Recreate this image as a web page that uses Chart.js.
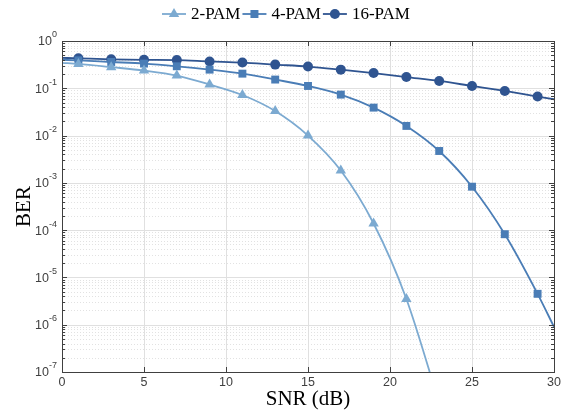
<!DOCTYPE html>
<html>
<head>
<meta charset="utf-8">
<script src="https://cdn.jsdelivr.net/npm/chart.js@4"></script>
<style>
  html, body { margin: 0; padding: 0; background: #fff; }
  #wrap { width: 567px; height: 412px; }
</style>
</head>
<body>
<div id="wrap"><canvas id="myChart"></canvas></div>
<script>
// SNR points (markers on odd values, line runs from 0 to the right edge)
const snr = [0, 1, 3, 5, 7, 9, 11, 13, 15, 17, 19, 21, 23, 25, 27, 29, 30];
const ber2 = [0.345, 0.327, 0.28, 0.237, 0.186, 0.12, 0.072, 0.033, 0.0100, 0.00182, 0.000138, 0.0000035, 0.000000022, null, null, null, null];
const ber4 = [0.40, 0.39, 0.36, 0.333, 0.292, 0.248, 0.204, 0.153, 0.112, 0.0735, 0.039, 0.016, 0.00472, 0.00083, 0.000082, 0.0000045, 0.0000009];
const ber16 = [0.44, 0.43, 0.41, 0.40, 0.395, 0.37, 0.35, 0.317, 0.288, 0.248, 0.21, 0.173, 0.143, 0.112, 0.0877, 0.0668, 0.0586];
const seriesNames = ['2-PAM', '4-PAM', '16-PAM'];
const xTicks = [0, 5, 10, 15, 20, 25, 30];
const yExps = [0, -1, -2, -3, -4, -5, -6, -7];

const colors = ['#7caad1', '#4a7db6', '#2f5490'];
const styles = ['triangle', 'rect', 'circle'];
const radii = [6, 5.6, 5];

function pts(arr) {
  return arr.map(function (v, i) { return { x: snr[i], y: v }; });
}
function markerRadius(r) {
  return snr.map(function (s) { return (s % 2 === 1) ? r : 0; });
}

const sans = '"Liberation Sans", Arial, sans-serif';
const serif = '"Liberation Serif", "Times New Roman", serif';

const decor = {
  id: 'decor',
  beforeDatasetsDraw(chart) {
    const ctx = chart.ctx, a = chart.chartArea;
    const xs = chart.scales.x, ys = chart.scales.y;
    ctx.save();
    // minor dotted grid
    ctx.strokeStyle = '#e2e2e2';
    ctx.lineWidth = 1;
    ctx.setLineDash([1, 2]);
    for (let e = -7; e < 0; e++) {
      for (let m = 2; m <= 9; m++) {
        const y = Math.round(ys.getPixelForValue(m * Math.pow(10, e))) + 0.5;
        ctx.beginPath(); ctx.moveTo(a.left, y); ctx.lineTo(a.right, y); ctx.stroke();
      }
    }
    ctx.setLineDash([]);
    // major grid
    ctx.strokeStyle = '#e0e0e0';
    yExps.forEach(function (e) {
      const y = Math.round(ys.getPixelForValue(Math.pow(10, e))) + 0.5;
      ctx.beginPath(); ctx.moveTo(a.left, y); ctx.lineTo(a.right, y); ctx.stroke();
    });
    xTicks.forEach(function (t) {
      const x = Math.round(xs.getPixelForValue(t)) + 0.5;
      ctx.beginPath(); ctx.moveTo(x, a.top); ctx.lineTo(x, a.bottom); ctx.stroke();
    });
    ctx.restore();
  },
  afterDraw(chart) {
    const ctx = chart.ctx, a = chart.chartArea;
    const xs = chart.scales.x, ys = chart.scales.y;
    ctx.save();
    // box
    ctx.strokeStyle = '#404040';
    ctx.lineWidth = 1;
    ctx.strokeRect(Math.round(a.left) + 0.5, Math.round(a.top) + 0.5, Math.round(a.right - a.left), Math.round(a.bottom - a.top));
    // x ticks (inward, top and bottom)
    ctx.beginPath();
    xTicks.forEach(function (t) {
      const x = Math.round(xs.getPixelForValue(t)) + 0.5;
      ctx.moveTo(x, a.bottom); ctx.lineTo(x, a.bottom - 5);
      ctx.moveTo(x, a.top); ctx.lineTo(x, a.top + 5);
    });
    // y ticks, major + minor
    yExps.forEach(function (e) {
      const y = Math.round(ys.getPixelForValue(Math.pow(10, e))) + 0.5;
      ctx.moveTo(a.left, y); ctx.lineTo(a.left + 5, y);
      ctx.moveTo(a.right, y); ctx.lineTo(a.right - 5, y);
    });
    for (let e = -7; e < 0; e++) {
      for (let m = 2; m <= 9; m++) {
        const y = Math.round(ys.getPixelForValue(m * Math.pow(10, e))) + 0.5;
        ctx.moveTo(a.left, y); ctx.lineTo(a.left + 3, y);
        ctx.moveTo(a.right, y); ctx.lineTo(a.right - 3, y);
      }
    }
    ctx.stroke();

    // tick labels
    ctx.fillStyle = '#404040';
    ctx.font = '12.5px ' + sans;
    ctx.textAlign = 'center';
    ctx.textBaseline = 'middle';
    xTicks.forEach(function (t) {
      ctx.fillText(String(t), xs.getPixelForValue(t), a.bottom + 11);
    });
    yExps.forEach(function (e) {
      const y = ys.getPixelForValue(Math.pow(10, e));
      const ex = String(e);
      ctx.font = '9px ' + sans;
      const ew = ctx.measureText(ex).width;
      ctx.textAlign = 'left';
      ctx.fillText(ex, a.left - 5 - ew, y - 6);
      ctx.font = '12.5px ' + sans;
      ctx.textAlign = 'right';
      ctx.fillText('10', a.left - 5 - ew, y + 1);
    });

    // axis titles
    ctx.fillStyle = '#000';
    ctx.font = '21px ' + serif;
    ctx.textAlign = 'center';
    ctx.textBaseline = 'middle';
    ctx.fillText('SNR (dB)', (a.left + a.right) / 2, a.bottom + 27);
    ctx.save();
    ctx.translate(24, (a.top + a.bottom) / 2);
    ctx.rotate(-Math.PI / 2);
    ctx.fillText('BER', 0, 0);
    ctx.restore();

    // legend: line with marker, then name
    ctx.font = '17px ' + serif;
    ctx.textAlign = 'left';
    let lx = 162;
    const ly = 14;
    seriesNames.forEach(function (name, i) {
      ctx.strokeStyle = colors[i];
      ctx.fillStyle = colors[i];
      ctx.lineWidth = 1.8;
      ctx.beginPath(); ctx.moveTo(lx, ly); ctx.lineTo(lx + 24, ly); ctx.stroke();
      const cx = lx + 12;
      ctx.beginPath();
      if (styles[i] === 'circle') {
        ctx.arc(cx, ly, 5, 0, Math.PI * 2);
      } else if (styles[i] === 'rect') {
        ctx.rect(cx - 4, ly - 4, 8, 8);
      } else {
        ctx.moveTo(cx, ly - 6); ctx.lineTo(cx + 5.2, ly + 3); ctx.lineTo(cx - 5.2, ly + 3); ctx.closePath();
      }
      ctx.fill();
      ctx.fillStyle = '#000';
      ctx.fillText(name, lx + 29, ly + 1);
      lx += 29 + ctx.measureText(name).width + 2;
    });
    ctx.restore();
  }
};

const ctx = document.getElementById('myChart').getContext('2d');
const myChart = new Chart(ctx, {
  type: 'line',
  data: {
    datasets: [ber2, ber4, ber16].map(function (arr, i) {
      return {
        label: seriesNames[i],
        data: pts(arr),
        borderColor: colors[i],
        backgroundColor: colors[i],
        borderWidth: 1.8,
        pointStyle: styles[i],
        pointRadius: markerRadius(radii[i]),
        pointBorderWidth: 0,
        cubicInterpolationMode: 'monotone',
        spanGaps: false
      };
    })
  },
  options: {
    responsive: true,
    maintainAspectRatio: false,
    animation: false,
    layout: { padding: { left: 62, right: 13, top: 41, bottom: 40 } },
    plugins: { legend: { display: false }, tooltip: { enabled: false } },
    scales: {
      x: { type: 'linear', min: 0, max: 30, display: false },
      y: { type: 'logarithmic', min: 1e-7, max: 1, display: false }
    }
  },
  plugins: [decor]
});
</script>
</body>
</html>
